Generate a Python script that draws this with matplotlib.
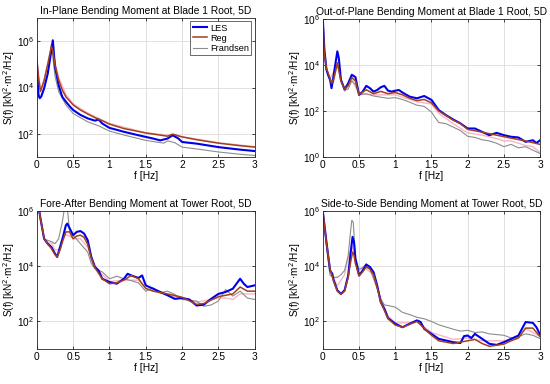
import matplotlib
matplotlib.use("Agg")
import matplotlib.pyplot as plt
import numpy as np

plt.rcParams['font.family'] = ['Liberation Sans', 'DejaVu Sans']

# values, stored as log10 of S(f) in kN^2 m^2/Hz

# ---- In-plane bending moment at blade 1 root ----
ip_les_f = [0, 0.02, 0.04, 0.06, 0.1, 0.15, 0.2, 0.22, 0.25, 0.3, 0.35, 0.4, 0.45, 0.5, 0.6, 0.7, 0.8, 0.85, 0.9, 1.0, 1.2, 1.4, 1.6, 1.7, 1.8, 1.87, 1.95, 2.0, 2.2, 2.5, 2.8, 3.0]
ip_les = [5.13, 3.68, 3.54, 3.61, 3.97, 4.6, 5.6, 6.04, 4.9, 4.1, 3.6, 3.39, 3.2, 3.03, 2.82, 2.67, 2.57, 2.62, 2.45, 2.26, 2.09, 1.94, 1.8, 1.72, 1.8, 1.94, 1.8, 1.65, 1.58, 1.43, 1.32, 1.26]
ip_reg_f = [0, 0.02, 0.05, 0.1, 0.15, 0.2, 0.22, 0.25, 0.3, 0.35, 0.4, 0.5, 0.6, 0.7, 0.8, 0.9, 1.0, 1.2, 1.5, 1.8, 1.87, 2.0, 2.2, 2.5, 2.8, 3.0]
ip_reg = [5.2, 4.5, 3.83, 4.3, 5.0, 5.78, 5.6, 4.97, 4.33, 3.9, 3.6, 3.25, 3.03, 2.86, 2.7, 2.57, 2.42, 2.23, 2.04, 1.9, 1.99, 1.87, 1.75, 1.6, 1.49, 1.43]
ip_fra_f = [0, 0.03, 0.05, 0.1, 0.15, 0.2, 0.22, 0.25, 0.3, 0.4, 0.5, 0.6, 0.7, 0.85, 1.0, 1.2, 1.5, 1.75, 1.8, 1.9, 2.0, 2.2, 2.5, 2.8, 3.0]
ip_fra = [5.0, 3.7, 3.55, 3.9, 4.6, 5.88, 5.3, 4.5, 3.83, 3.25, 2.88, 2.7, 2.52, 2.35, 2.12, 1.95, 1.72, 1.6, 1.7, 1.62, 1.43, 1.35, 1.22, 1.12, 1.07]
ip_pink_f = [0, 0.05, 0.1, 0.2, 0.25, 0.3, 0.4, 0.5, 0.7, 1.0, 1.5, 2.0, 2.5, 3.0]
ip_pink = [5.2, 3.9, 4.35, 5.75, 5.1, 4.45, 3.7, 3.3, 2.9, 2.45, 2.05, 1.88, 1.62, 1.45]

# ---- Out-of-plane bending moment at blade 1 root ----
op_les_f = [0, 0.02, 0.05, 0.08, 0.1, 0.12, 0.15, 0.2, 0.22, 0.25, 0.3, 0.35, 0.4, 0.45, 0.5, 0.55, 0.6, 0.65, 0.7, 0.75, 0.8, 0.85, 0.9, 0.95, 1.0, 1.05, 1.1, 1.2, 1.3, 1.4, 1.5, 1.55, 1.6, 1.7, 1.8, 1.9, 2.0, 2.1, 2.2, 2.3, 2.4, 2.5, 2.6, 2.7, 2.8, 2.9, 2.95, 3.0]
op_les = [5.97, 4.66, 3.79, 3.5, 3.35, 2.99, 3.57, 4.59, 4.3, 3.35, 2.94, 3.2, 3.57, 3.47, 2.7, 2.84, 3.09, 2.99, 2.84, 2.91, 3.03, 3.09, 2.88, 2.84, 2.88, 2.91, 2.8, 2.62, 2.55, 2.65, 2.48, 2.26, 2.04, 1.82, 1.63, 1.46, 1.24, 1.24, 1.09, 0.95, 1.05, 0.95, 0.88, 0.85, 0.66, 0.73, 0.61, 0.73]
op_reg_f = [0, 0.02, 0.05, 0.1, 0.12, 0.15, 0.2, 0.25, 0.3, 0.35, 0.4, 0.45, 0.5, 0.6, 0.7, 0.8, 0.9, 1.0, 1.1, 1.2, 1.3, 1.4, 1.5, 1.6, 1.7, 1.8, 1.9, 2.0, 2.2, 2.4, 2.6, 2.8, 3.0]
op_reg = [5.97, 4.5, 3.85, 3.4, 3.2, 3.4, 4.1, 3.3, 2.95, 3.1, 3.45, 3.3, 2.72, 2.92, 2.75, 2.85, 2.75, 2.8, 2.7, 2.55, 2.45, 2.5, 2.35, 2.0, 1.8, 1.6, 1.45, 1.2, 1.08, 0.95, 0.82, 0.7, 0.55]
op_fra_f = [0, 0.02, 0.05, 0.1, 0.12, 0.15, 0.2, 0.25, 0.3, 0.35, 0.4, 0.45, 0.5, 0.6, 0.7, 0.8, 0.9, 1.0, 1.1, 1.2, 1.3, 1.4, 1.5, 1.55, 1.6, 1.7, 1.8, 1.9, 2.0, 2.1, 2.2, 2.3, 2.4, 2.5, 2.6, 2.7, 2.8, 2.9, 3.0]
op_fra = [5.97, 4.5, 3.8, 3.4, 3.1, 3.3, 4.05, 3.3, 2.9, 2.95, 3.3, 3.15, 2.7, 2.75, 2.65, 2.6, 2.55, 2.58, 2.5, 2.38, 2.25, 2.2, 1.95, 1.72, 1.5, 1.45, 1.3, 1.15, 0.9, 0.85, 0.75, 0.7, 0.6, 0.45, 0.55, 0.4, 0.45, 0.3, 0.15]
op_pink_f = [0, 0.05, 0.1, 0.2, 0.3, 0.4, 0.5, 0.7, 1.0, 1.3, 1.5, 1.6, 1.8, 2.0, 2.2, 2.4, 2.5, 2.6, 2.8, 2.9, 3.0]
op_pink = [5.97, 3.8, 3.4, 4.0, 2.85, 3.35, 2.75, 2.7, 2.7, 2.4, 2.3, 1.9, 1.45, 1.05, 0.95, 0.8, 0.7, 0.7, 0.5, 0.45, 0.2]

# ---- Fore-after bending moment at tower root ----
fa_les_f = [0.02, 0.05, 0.1, 0.15, 0.2, 0.25, 0.28, 0.32, 0.36, 0.4, 0.42, 0.45, 0.5, 0.55, 0.6, 0.65, 0.7, 0.75, 0.8, 0.85, 0.9, 1.0, 1.1, 1.2, 1.25, 1.3, 1.4, 1.45, 1.5, 1.6, 1.7, 1.8, 1.9, 2.0, 2.1, 2.2, 2.3, 2.4, 2.5, 2.6, 2.7, 2.8, 2.85, 2.9, 3.0]
fa_les = [6.22, 5.73, 5.0, 4.82, 4.7, 4.46, 4.34, 4.7, 5.07, 5.49, 5.55, 5.39, 5.13, 5.25, 5.28, 5.19, 4.95, 4.34, 3.98, 3.85, 3.55, 3.43, 3.37, 3.55, 3.73, 3.67, 3.58, 3.67, 3.31, 3.19, 3.07, 2.95, 2.82, 2.85, 2.8, 2.58, 2.61, 2.82, 3.0, 3.07, 3.19, 3.55, 3.37, 3.25, 3.31]
fa_reg_f = [0.02, 0.05, 0.1, 0.15, 0.2, 0.25, 0.28, 0.32, 0.36, 0.4, 0.45, 0.5, 0.55, 0.6, 0.65, 0.7, 0.75, 0.8, 0.9, 1.0, 1.1, 1.2, 1.3, 1.4, 1.5, 1.6, 1.8, 2.0, 2.2, 2.3, 2.5, 2.7, 2.8, 2.9, 3.0]
fa_reg = [6.2, 5.73, 5.0, 4.8, 4.65, 4.42, 4.35, 4.6, 4.95, 5.25, 5.25, 5.0, 5.1, 5.13, 5.05, 4.8, 4.3, 3.95, 3.55, 3.37, 3.4, 3.5, 3.67, 3.55, 3.2, 3.1, 3.0, 2.88, 2.62, 2.65, 2.9, 3.0, 3.25, 3.1, 3.1]
fa_fra_f = [0.02, 0.05, 0.1, 0.15, 0.2, 0.25, 0.3, 0.35, 0.38, 0.4, 0.42, 0.45, 0.5, 0.6, 0.7, 0.75, 0.8, 0.9, 1.0, 1.1, 1.2, 1.3, 1.4, 1.5, 1.6, 1.7, 1.8, 1.9, 2.0, 2.2, 2.3, 2.4, 2.5, 2.6, 2.7, 2.8, 2.9, 3.0]
fa_fra = [6.2, 5.73, 5.0, 4.94, 4.9, 4.82, 5.0, 5.6, 6.1, 6.3, 6.1, 5.3, 5.13, 4.82, 4.52, 4.1, 3.92, 3.8, 3.55, 3.64, 3.55, 3.48, 3.4, 3.1, 3.22, 3.04, 3.1, 2.98, 2.8, 2.74, 2.55, 2.6, 2.74, 3.16, 2.92, 3.1, 2.85, 2.8]
fa_pink_f = [0.02, 0.05, 0.1, 0.15, 0.2, 0.25, 0.3, 0.35, 0.4, 0.45, 0.5, 0.6, 0.7, 0.8, 1.0, 1.2, 1.4, 1.5, 1.8, 2.0, 2.2, 2.5, 2.6, 2.7, 2.8, 3.0]
fa_pink = [6.2, 5.73, 5.0, 4.85, 4.85, 4.6, 4.6, 4.95, 5.15, 5.1, 5.0, 5.0, 4.7, 3.95, 3.45, 3.5, 3.5, 3.2, 2.95, 2.85, 2.7, 2.85, 2.85, 2.8, 3.0, 3.0]

# ---- Side-to-side bending moment at tower root ----
ss_les_f = [0, 0.05, 0.1, 0.13, 0.15, 0.2, 0.25, 0.3, 0.35, 0.38, 0.41, 0.43, 0.45, 0.5, 0.55, 0.6, 0.65, 0.7, 0.75, 0.8, 0.85, 0.9, 1.0, 1.1, 1.2, 1.3, 1.35, 1.4, 1.5, 1.6, 1.7, 1.8, 1.9, 1.95, 2.0, 2.05, 2.1, 2.2, 2.3, 2.4, 2.5, 2.6, 2.7, 2.8, 2.9, 2.95, 3.0]
ss_les = [5.98, 4.88, 3.85, 3.73, 3.49, 3.13, 3.0, 3.13, 3.67, 4.4, 5.07, 4.88, 4.28, 3.67, 3.85, 4.06, 3.98, 3.79, 3.31, 2.7, 2.46, 2.12, 1.92, 1.79, 1.92, 2.04, 1.98, 1.73, 1.55, 1.37, 1.31, 1.25, 1.22, 1.47, 1.49, 1.4, 1.55, 1.37, 1.19, 1.15, 1.25, 1.37, 1.49, 1.98, 1.95, 1.79, 1.52]
ss_reg_f = [0, 0.05, 0.1, 0.15, 0.2, 0.25, 0.3, 0.35, 0.38, 0.41, 0.43, 0.45, 0.5, 0.55, 0.6, 0.65, 0.7, 0.75, 0.8, 0.9, 1.0, 1.1, 1.2, 1.3, 1.4, 1.5, 1.6, 1.8, 2.0, 2.1, 2.2, 2.3, 2.5, 2.6, 2.7, 2.8, 2.9, 3.0]
ss_reg = [5.98, 4.85, 3.9, 3.45, 3.1, 2.98, 3.1, 3.6, 4.1, 4.52, 4.4, 4.1, 3.65, 3.8, 3.98, 3.9, 3.7, 3.25, 2.7, 2.1, 1.87, 1.79, 1.9, 2.0, 1.75, 1.5, 1.3, 1.2, 1.3, 1.35, 1.2, 1.1, 1.18, 1.3, 1.4, 1.76, 1.76, 1.45]
ss_fra_f = [0, 0.05, 0.1, 0.15, 0.2, 0.25, 0.3, 0.35, 0.38, 0.4, 0.42, 0.45, 0.5, 0.55, 0.6, 0.65, 0.7, 0.8, 0.85, 0.9, 1.0, 1.1, 1.2, 1.3, 1.4, 1.5, 1.6, 1.7, 1.8, 1.9, 2.0, 2.1, 2.2, 2.3, 2.5, 2.6, 2.7, 2.8, 2.9, 3.0]
ss_fra = [5.98, 4.7, 3.67, 3.6, 3.6, 3.7, 3.85, 4.4, 5.2, 5.67, 5.6, 4.3, 3.9, 3.95, 4.1, 3.9, 3.55, 2.82, 2.6, 2.58, 2.52, 2.33, 2.25, 2.15, 2.1, 2.0, 1.88, 1.8, 1.72, 1.65, 1.68, 1.6, 1.62, 1.55, 1.5, 1.4, 1.45, 1.55, 1.5, 1.38]
ss_pink_f = [0, 0.05, 0.1, 0.2, 0.25, 0.3, 0.35, 0.4, 0.43, 0.45, 0.5, 0.55, 0.6, 0.7, 0.8, 0.9, 1.0, 1.2, 1.3, 1.5, 1.8, 2.0, 2.2, 2.5, 2.7, 2.8, 3.0]
ss_pink = [5.98, 4.8, 3.8, 3.3, 3.5, 3.7, 4.3, 4.75, 4.5, 4.1, 3.85, 3.95, 3.9, 3.7, 2.8, 2.2, 1.95, 1.95, 2.02, 1.6, 1.35, 1.4, 1.3, 1.3, 1.4, 1.75, 1.45]

titles = ["In-Plane Bending Moment at Blade 1 Root, 5D",
          "Out-of-Plane Bending Moment at Blade 1 Root, 5D",
          "Fore-After Bending Moment at Tower Root, 5D",
          "Side-to-Side Bending Moment at Tower Root, 5D"]

panels = [
    (ip_les_f, ip_les, ip_reg_f, ip_reg, ip_fra_f, ip_fra, ip_pink_f, ip_pink),
    (op_les_f, op_les, op_reg_f, op_reg, op_fra_f, op_fra, op_pink_f, op_pink),
    (fa_les_f, fa_les, fa_reg_f, fa_reg, fa_fra_f, fa_fra, fa_pink_f, fa_pink),
    (ss_les_f, ss_les, ss_reg_f, ss_reg, ss_fra_f, ss_fra, ss_pink_f, ss_pink),
]
ylims = [(1e1, 1e7), (1e0, 1e6), (1e1, 1e6), (1e1, 1e6)]
yticks = [[1e2, 1e4, 1e6], [1e0, 1e2, 1e4, 1e6], [1e2, 1e4, 1e6], [1e2, 1e4, 1e6]]

# axes rectangles in figure fractions (left, bottom, width, height)
rects = [(0.067, 0.591, 0.396, 0.362), (0.587, 0.591, 0.395, 0.360),
         (0.067, 0.091, 0.396, 0.359), (0.587, 0.091, 0.395, 0.359)]

fig = plt.figure(figsize=(5.5, 3.84), dpi=100)

for i in range(4):
    ax = fig.add_axes(rects[i])
    lf, les, rf, reg, ff, fra, pf, pink = panels[i]
    ax.plot(pf, 10 ** np.array(pink), color='#f5a3b8', lw=1.0, alpha=0.8)
    ax.plot(ff, 10 ** np.array(fra), color='#8c8c8c', lw=0.8, label='Frandsen')
    ax.plot(lf, 10 ** np.array(les), color='#0000ee', lw=1.5, label='LES')
    ax.plot(rf, 10 ** np.array(reg), color='#a0401c', lw=1.1, label='Reg')
    ax.set_yscale('log')
    ax.set_xlim(0, 3)
    ax.set_ylim(*ylims[i])
    ax.set_yticks(yticks[i])
    ax.set_xticks([0, 0.5, 1, 1.5, 2, 2.5, 3])
    ax.set_xticklabels(['0', '0.5', '1', '1.5', '2', '2.5', '3'])
    ax.minorticks_off()
    ax.grid(True, color='#dcdcdc', lw=0.6)
    ax.tick_params(labelsize=7.3, direction='in', top=True, right=True, length=2.5, width=0.5, pad=2)
    for s in ax.spines.values():
        s.set_linewidth(0.6)
        s.set_color('#262626')
    ax.set_title(titles[i], fontsize=7.4, pad=3)
    ax.set_xlabel('f [Hz]', fontsize=7.4, labelpad=1)
    ax.set_ylabel('S(f) [kN$^2$$\\cdot$m$^2$/Hz]', fontsize=7.2, labelpad=0)
    if i == 0:
        h, l = ax.get_legend_handles_labels()
        order = [l.index('LES'), l.index('Reg'), l.index('Frandsen')]
        leg = ax.legend([h[k] for k in order], [l[k] for k in order], loc='upper right',
                        fontsize=6.6, frameon=True, fancybox=False, edgecolor='#262626',
                        handlelength=1.6, handletextpad=0.3, borderpad=0.25, labelspacing=0.12,
                        borderaxespad=0.35)
        leg.get_frame().set_linewidth(0.6)

fig.savefig('out.png', dpi=100)
